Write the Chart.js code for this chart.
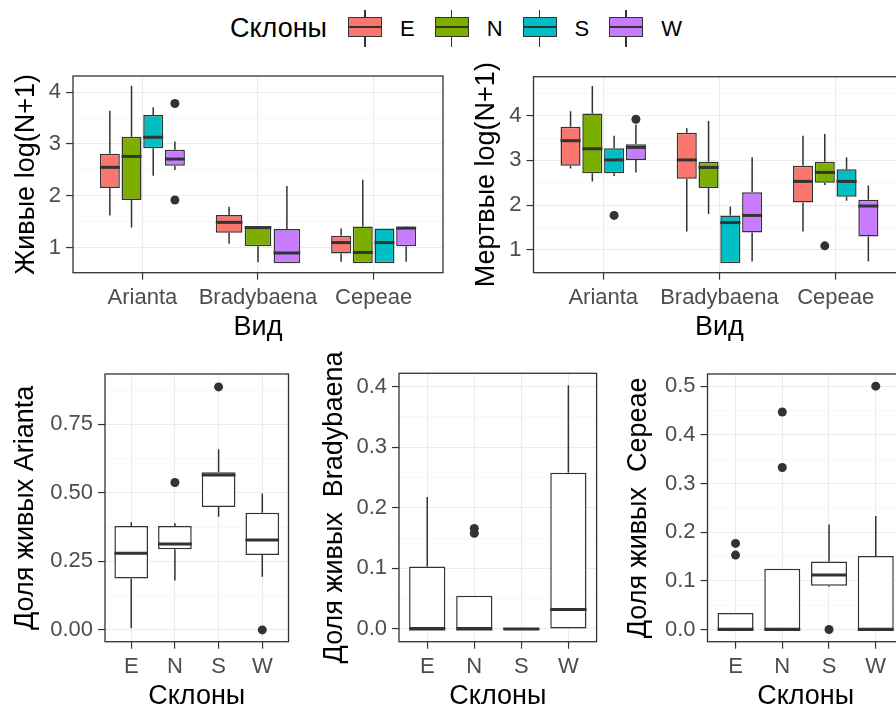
<!DOCTYPE html>
<html>
<head>
<meta charset="utf-8">
<script src="https://cdn.jsdelivr.net/npm/chart.js@4.4.1/dist/chart.umd.min.js"></script>
<style>
  html, body { margin: 0; padding: 0; background: #fff; }
  body { width: 896px; height: 713px; overflow: hidden; position: relative; font-family: "Liberation Sans", Arial, sans-serif; }
  canvas { position: absolute; }
  #legend { position: absolute; left: 230px; top: 10px; height: 37px; display: flex; align-items: center; }
  #legend .ltitle { font-size: 27px; margin-right: 21px; }
  #legend .key { position: relative; width: 34px; height: 37px; margin-right: 18px; }
  #legend .key::before { content: ''; position: absolute; left: 16px; top: 0; width: 1.5px; height: 37px; background: #333; }
  #legend .key i { position: absolute; left: 0; top: 7px; width: 34px; height: 20px; box-sizing: border-box; border: 1.5px solid #333; }
  #legend .key i::after { content: ''; position: absolute; left: 0; right: 0; top: 7.5px; height: 2px; background: #333; }
  #legend .lab { font-size: 22px; margin-right: 20px; }
</style>
</head>
<body>
<div id="legend"></div>
<canvas id="live" width="450" height="300" style="left:0;top:50px"></canvas>
<canvas id="dead" width="470" height="300" style="left:450px;top:50px"></canvas>
<canvas id="shareA" width="300" height="373" style="left:0;top:340px"></canvas>
<canvas id="shareB" width="310" height="373" style="left:300px;top:340px"></canvas>
<canvas id="shareC" width="310" height="373" style="left:610px;top:340px"></canvas>
<script>
// данные: [нижний ус, Q1, медиана, Q3, верхний ус]
const species = ['Arianta', 'Bradybaena', 'Cepeae'];
const slopes = ['E', 'N', 'S', 'W'];
const slopeColors = ['#F8766D', '#7CAE00', '#00BFC4', '#C77CFF'];

// Живые log(N+1), по видам
const liveE = [[1.62, 2.15, 2.55, 2.81, 3.64], [1.08, 1.29, 1.49, 1.63, 1.79], [0.73, 0.89, 1.10, 1.23, 1.37]];
const liveN = [[1.39, 1.92, 2.76, 3.14, 4.12], [0.72, 1.03, 1.39, 1.39, 1.41], [0.70, 0.70, 0.91, 1.41, 2.31]];
const liveS = [[2.39, 2.92, 3.13, 3.56, 3.71], null, [0.70, 0.70, 1.10, 1.37, 1.37]];
const liveW = [[2.50, 2.58, 2.71, 2.89, 3.05], [0.70, 0.70, 0.90, 1.36, 2.19], [0.73, 1.03, 1.38, 1.39, 1.41]];
const liveOutE = [[], [], []];
const liveOutN = [[], [], []];
const liveOutS = [[], [], []];
const liveOutW = [[3.78, 1.92], [], []];

// Мертвые log(N+1), по видам
const deadE = [[2.82, 2.88, 3.44, 3.75, 4.10], [1.41, 2.59, 3.01, 3.62, 3.72], [1.41, 2.06, 2.53, 2.88, 3.55]];
const deadN = [[2.53, 2.71, 3.26, 4.05, 4.66], [1.80, 2.38, 2.84, 2.97, 3.88], [2.45, 2.50, 2.73, 2.97, 3.59]];
const deadS = [[2.65, 2.71, 3.01, 3.27, 3.55], [0.70, 0.70, 1.61, 1.77, 1.97], [2.10, 2.19, 2.53, 2.80, 3.07]];
const deadW = [[2.73, 3.01, 3.29, 3.36, 3.80], [0.74, 1.39, 1.77, 2.29, 3.07], [0.74, 1.30, 1.98, 2.12, 2.44]];
const deadOutE = [[], [], []];
const deadOutN = [[], [], [1.09]];
const deadOutS = [[1.77], [], []];
const deadOutW = [[3.92], [], []];

// Доля живых, по склонам E, N, S, W
const shareArianta = [[0.006, 0.188, 0.28, 0.379, 0.393], [0.18, 0.294, 0.314, 0.379, 0.389], [0.413, 0.449, 0.565, 0.575, 0.659], [0.194, 0.273, 0.328, 0.428, 0.498]];
const shareAriantaOut = [[], [0.538], [0.887], [0.0]];
const shareBradybaena = [[0, 0, 0, 0.103, 0.218], [0, 0, 0, 0.055, 0.055], [0, 0, 0, 0, 0], [0, 0, 0.032, 0.258, 0.402]];
const shareBradybaenaOut = [[], [0.158, 0.166], [], []];
const shareCepeae = [[0, 0, 0, 0.034, 0.034], [0, 0, 0, 0.125, 0.125], [0.088, 0.090, 0.112, 0.140, 0.216], [0, 0, 0, 0.151, 0.233]];
const shareCepeaeOut = [[0.153, 0.177], [0.333, 0.447], [0.0], [0.5]];

// оси
const liveTicks = [1, 2, 3, 4];
const deadTicks = [1, 2, 3, 4];
const ariantaTicks = [0, 0.25, 0.5, 0.75];
const bradybaenaTicks = [0, 0.1, 0.2, 0.3, 0.4];
const cepeaeTicks = [0, 0.1, 0.2, 0.3, 0.4, 0.5];
const liveRange = [0.52, 4.31];
const deadRange = [0.49, 4.87];
const ariantaRange = [-0.043, 0.934];
const bradybaenaRange = [-0.021, 0.422];
const cepeaeRange = [-0.025, 0.525];

Chart.defaults.font.family = '"Liberation Sans", Arial, sans-serif';

// легенда
document.getElementById('legend').innerHTML = '<span class="ltitle">Склоны</span>' +
  slopes.map((s, i) => '<span class="key"><i style="background:' + slopeColors[i] + '"></i></span><span class="lab">' + s + '</span>').join('');

// усы, медианы, выбросы и рамка панели
const boxplotPlugin = {
  id: 'boxplot',
  afterDatasetsDraw(chart) {
    const ctx = chart.ctx;
    const y = chart.scales.y;
    ctx.save();
    ctx.strokeStyle = '#333';
    ctx.fillStyle = '#333';
    chart.data.datasets.forEach((ds, di) => {
      chart.getDatasetMeta(di).data.forEach((bar, i) => {
        const s = ds.stats[i];
        if (!s) return;
        const {x, width} = bar.getProps(['x', 'width'], true);
        ctx.lineWidth = 1.5;
        ctx.beginPath();
        ctx.moveTo(x, y.getPixelForValue(s[3]));
        ctx.lineTo(x, y.getPixelForValue(s[4]));
        ctx.moveTo(x, y.getPixelForValue(s[1]));
        ctx.lineTo(x, y.getPixelForValue(s[0]));
        ctx.stroke();
        ctx.lineWidth = 3;
        ctx.beginPath();
        ctx.moveTo(x - width / 2, y.getPixelForValue(s[2]));
        ctx.lineTo(x + width / 2, y.getPixelForValue(s[2]));
        ctx.stroke();
        ds.outliers[i].forEach(v => {
          ctx.beginPath();
          ctx.arc(x, y.getPixelForValue(v), 4.5, 0, Math.PI * 2);
          ctx.fill();
        });
      });
    });
    const a = chart.chartArea;
    ctx.lineWidth = 1.3;
    ctx.strokeRect(a.left, a.top, a.right - a.left, a.bottom - a.top);
    ctx.restore();
  }
};

function boxData(stats) {
  return stats.map((s, i) => ({x: i + 1, y: s ? [s[1], s[3]] : null}));
}

function makeChart(id, o) {
  const step = o.yTicks[1] - o.yTicks[0];
  const grid = [];
  o.yTicks.forEach(t => grid.push(t - step / 2, t));
  grid.push(o.yTicks[o.yTicks.length - 1] + step / 2);
  const yGrid = grid.filter(v => v >= o.yRange[0] && v <= o.yRange[1]);
  const isMajor = v => o.yTicks.some(t => Math.abs(t - v) < 1e-9);

  new Chart(document.getElementById(id), {
    type: 'bar',
    data: {datasets: o.datasets},
    plugins: [boxplotPlugin],
    options: {
      responsive: false,
      animation: false,
      events: [],
      layout: {padding: o.padding},
      plugins: {legend: {display: false}, tooltip: {enabled: false}},
      datasets: {bar: {categoryPercentage: o.catPct, barPercentage: o.barPct, borderColor: '#333', borderWidth: 1.5, borderSkipped: false, skipNull: true}},
      scales: {
        x: {
          type: 'linear', min: 0.4, max: o.xLabels.length + 0.6, offset: false,
          afterBuildTicks: s => { s.ticks = o.xLabels.map((_, i) => ({value: i + 1})); },
          afterFit: s => { s.height = o.xHeight; },
          ticks: {autoSkip: false, maxRotation: 0, padding: 5, color: '#4d4d4d', font: {size: 22},
            callback: v => o.xLabels[Math.round(v) - 1]},
          grid: {color: '#ebebeb', lineWidth: 1.1, tickLength: 7, tickColor: '#333', tickWidth: 1.2, offset: false},
          border: {display: false},
          title: {display: true, text: o.xTitle, color: '#000', font: {size: 27}, padding: {top: 0, bottom: o.xTitlePad}}
        },
        y: {
          min: o.yRange[0], max: o.yRange[1], beginAtZero: false,
          afterBuildTicks: s => { s.ticks = yGrid.map(v => ({value: v})); },
          afterFit: s => { s.width = o.yWidth; },
          ticks: {autoSkip: false, padding: 5, color: '#4d4d4d', font: {size: 22},
            callback: v => isMajor(v) ? v.toFixed(o.digits) : ''},
          grid: {
            color: c => isMajor(c.tick.value) ? '#ebebeb' : '#f4f4f4',
            lineWidth: c => isMajor(c.tick.value) ? 1.1 : 0.6,
            tickLength: 7,
            tickColor: c => isMajor(c.tick.value) ? '#333' : 'rgba(0,0,0,0)',
            tickWidth: 1.2
          },
          border: {display: false},
          title: {display: true, text: o.yTitle, color: '#000', font: {size: 27}, padding: {top: o.yTitlePad, bottom: 0}}
        }
      }
    }
  });
}

const liveStats = [liveE, liveN, liveS, liveW];
const liveOut = [liveOutE, liveOutN, liveOutS, liveOutW];
const deadStats = [deadE, deadN, deadS, deadW];
const deadOut = [deadOutE, deadOutN, deadOutS, deadOutW];

makeChart('live', {
  datasets: slopes.map((s, i) => ({label: s, data: boxData(liveStats[i]), stats: liveStats[i], outliers: liveOut[i], backgroundColor: slopeColors[i]})),
  xLabels: species, xTitle: 'Вид', yTitle: 'Живые log(N+1)',
  yTicks: liveTicks, yRange: liveRange, digits: 0,
  padding: {top: 26, right: 7, left: 0, bottom: 0}, yWidth: 73, xHeight: 77.3, yTitlePad: 10, xTitlePad: 6,
  catPct: 0.75, barPct: 0.92
});

makeChart('dead', {
  datasets: slopes.map((s, i) => ({label: s, data: boxData(deadStats[i]), stats: deadStats[i], outliers: deadOut[i], backgroundColor: slopeColors[i]})),
  xLabels: species, xTitle: 'Вид', yTitle: 'Мертвые log(N+1)',
  yTicks: deadTicks, yRange: deadRange, digits: 0,
  padding: {top: 26.7, right: 14.6, left: 0, bottom: 0}, yWidth: 83.5, xHeight: 77.3, yTitlePad: 20, xTitlePad: 6,
  catPct: 0.75, barPct: 0.92
});

function shareChart(id, stats, out, title, ticks, range, digits, layout) {
  makeChart(id, Object.assign({
    datasets: [{label: title, data: boxData(stats), stats: stats, outliers: out, backgroundColor: '#fff'}],
    xLabels: slopes, xTitle: 'Склоны', yTitle: title,
    yTicks: ticks, yRange: range, digits: digits,
    xHeight: 71.3, xTitlePad: 0, catPct: 0.77, barPct: 1
  }, layout));
}

shareChart('shareA', shareArianta, shareAriantaOut, 'Доля живых Arianta', ariantaTicks, ariantaRange, 2,
  {padding: {top: 34, right: 11.5, left: 0, bottom: 0}, yWidth: 105, yTitlePad: 9});
shareChart('shareB', shareBradybaena, shareBradybaenaOut, 'Доля живых  Bradybaena', bradybaenaTicks, bradybaenaRange, 1,
  {padding: {top: 33.3, right: 13.4, left: 0, bottom: 0}, yWidth: 99, yTitlePad: 18});
shareChart('shareC', shareCepeae, shareCepeaeOut, 'Доля живых  Cepeae', cepeaeTicks, cepeaeRange, 1,
  {padding: {top: 34, right: 16.2, left: 0, bottom: 0}, yWidth: 97.5, yTitlePad: 12});
</script>
</body>
</html>
